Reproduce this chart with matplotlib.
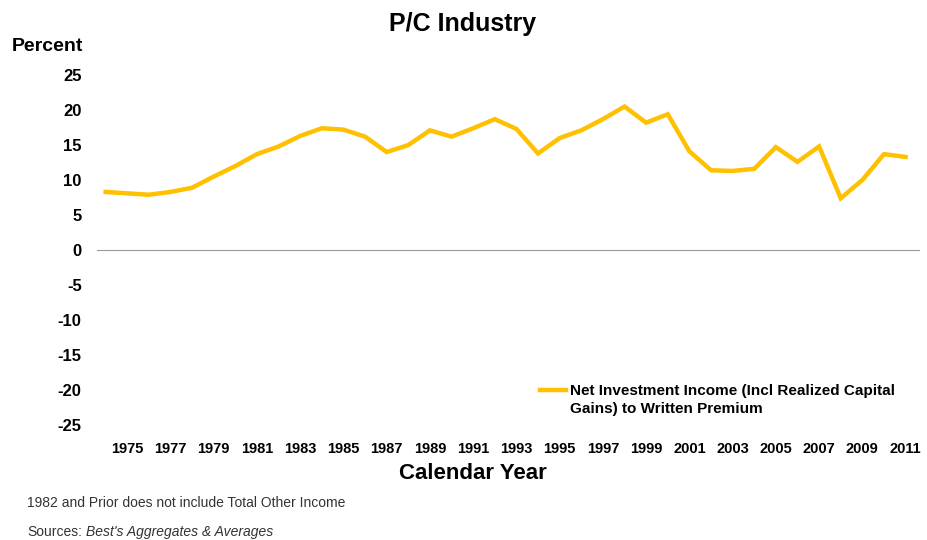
import matplotlib.pyplot as plt
from matplotlib.lines import Line2D

plt.rcParams['font.family'] = ['Liberation Sans', 'DejaVu Sans']

years = list(range(1974, 2012))
ratio = [8.3, 8.1, 7.9, 8.3, 8.9, 10.5, 12.0, 13.7, 14.8, 16.3, 17.4, 17.2,
         16.2, 14.0, 15.0, 17.1, 16.2, 17.4, 18.7, 17.3, 13.8, 16.0, 17.1, 18.7,
         20.5, 18.2, 19.4, 14.1, 11.4, 11.3, 11.6, 14.7, 12.6, 14.8, 7.4, 10.0,
         13.7, 13.3]
tick_years = list(range(1975, 2012, 2))
series_label = 'Net Investment Income (Incl Realized Capital\nGains) to Written Premium'
line_color = '#FFC000'

fig = plt.figure(figsize=(9.28, 5.4), dpi=100)
ax = fig.add_axes([0.1045, 0.213, 0.8865, 0.648])

ax.plot(years, ratio, color=line_color, linewidth=3.2, solid_joinstyle='miter')
ax.axhline(0, color='#999999', linewidth=0.8)

ax.set_xlim(1973.6, 2011.65)
ax.set_ylim(-25, 25)
ax.set_yticks(range(-25, 30, 5))
ax.set_xticks(tick_years)
ax.set_xticklabels([str(y) for y in tick_years], fontsize=10.5, fontweight='bold')
ax.set_yticklabels([str(v) for v in range(-25, 30, 5)], fontsize=12, fontweight='bold')
ax.tick_params(axis='both', length=0)
ax.tick_params(axis='y', pad=11)
ax.tick_params(axis='x', pad=12)
for s in ax.spines.values():
    s.set_visible(False)

fig.text(0.498, 0.955, 'P/C Industry', ha='center', va='center',
         fontsize=18, fontweight='bold')
fig.text(0.013, 0.913, 'Percent', ha='left', va='center',
         fontsize=14, fontweight='bold')
fig.text(0.51, 0.124, 'Calendar Year', ha='center', va='center',
         fontsize=16, fontweight='bold')

# legend key: short line next to the first row of the label
fig.lines.append(Line2D([0.582, 0.610], [0.278, 0.278], color=line_color,
                        linewidth=3.2, transform=fig.transFigure))
fig.text(0.614, 0.289, series_label, ha='left', va='top', fontsize=11,
         fontweight='bold', linespacing=1.4)

fig.text(0.029, 0.069, '1982 and Prior does not include Total Other Income',
         ha='left', va='center', fontsize=10, color='#333333')
fig.text(0.029, 0.015, 'Sources:', ha='left', va='center',
         fontsize=10, color='#333333')
fig.text(0.093, 0.015, "Best's Aggregates & Averages", ha='left', va='center',
         fontsize=10, color='#333333', style='italic')

fig.savefig('out.png', dpi=100, facecolor='white')
